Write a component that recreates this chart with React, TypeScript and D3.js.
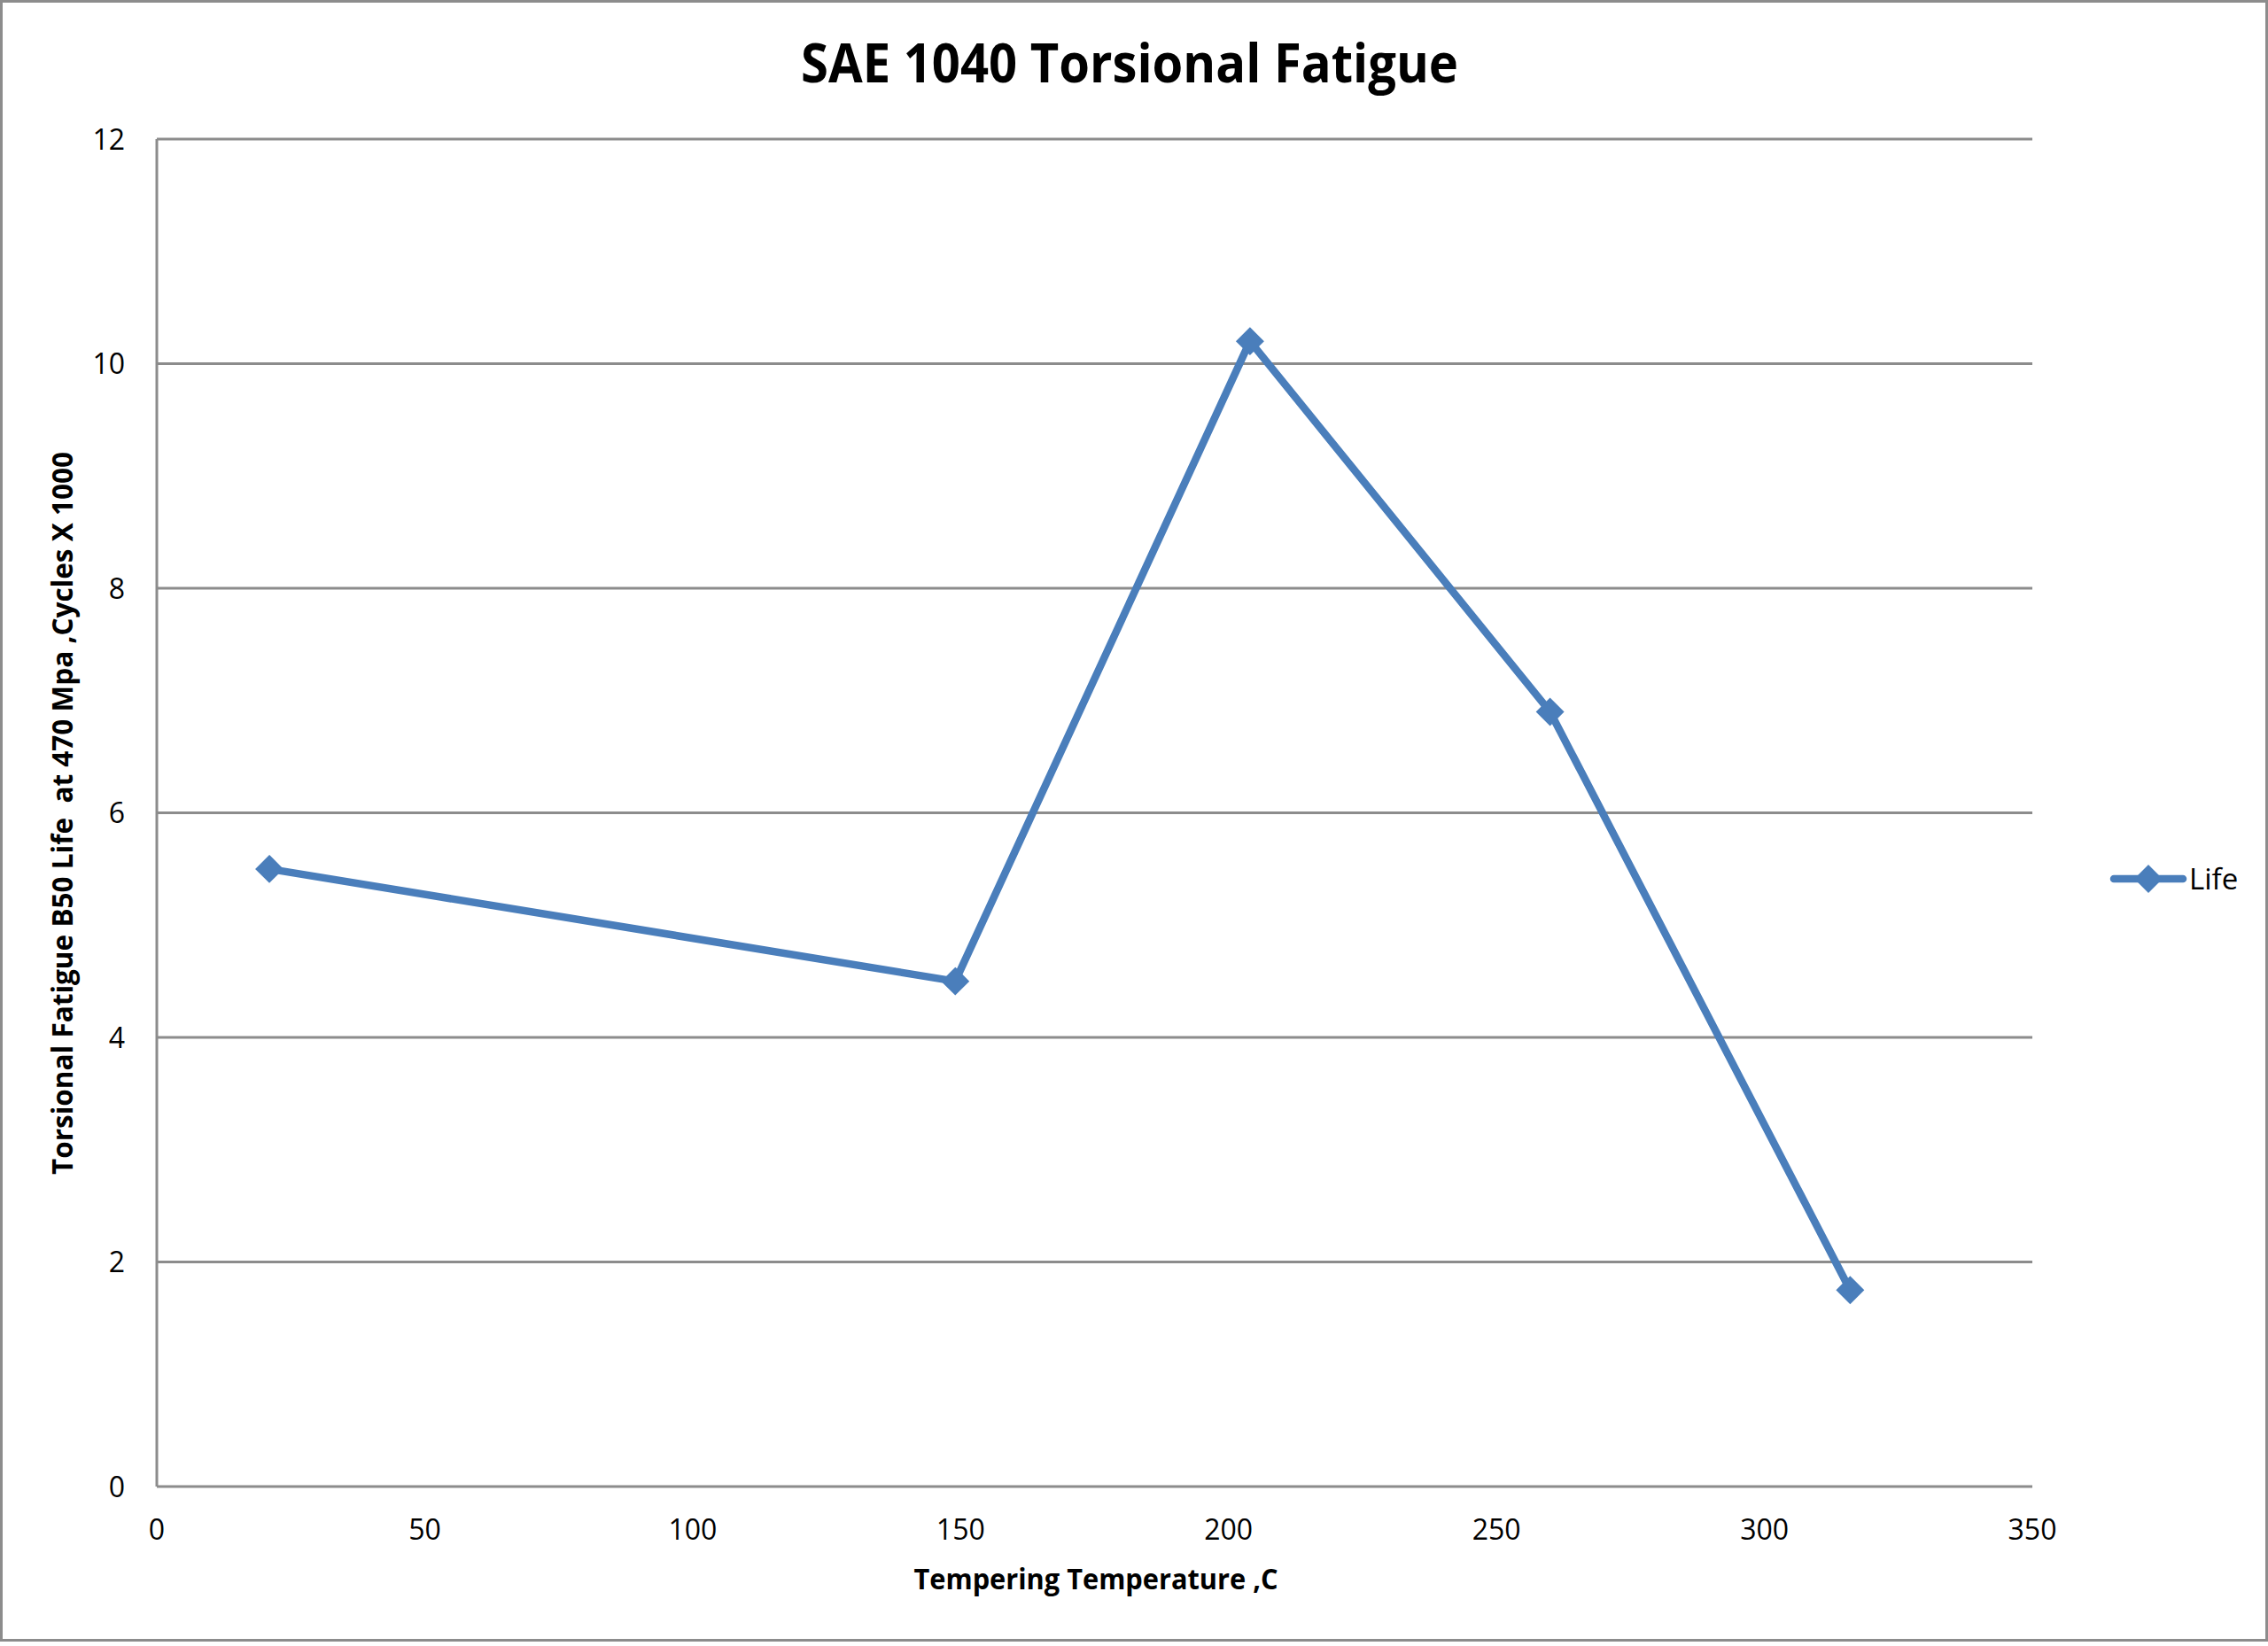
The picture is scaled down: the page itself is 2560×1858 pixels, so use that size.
import React, { useEffect, useRef } from "react";
import * as d3 from "d3";

const temperatures = [21, 149, 204, 260, 316];
const lifeValues = [5.5, 4.5, 10.2, 6.9, 1.75];
const xTicks = [0, 50, 100, 150, 200, 250, 300, 350];
const yTicks = [0, 2, 4, 6, 8, 10, 12];

const width = 2560;
const height = 1858;
const margin = { top: 157, right: 266, bottom: 180, left: 177 };
const lineColor = "#4A7EBB";
const gridColor = "#8C8C8C";
const font = "'Open Sans', 'DejaVu Sans', sans-serif";

const Chart = () => {
  const ref = useRef(null);

  useEffect(() => {
    const svg = d3.select(ref.current);
    svg.selectAll("*").remove();

    const xScale = d3
      .scaleLinear()
      .domain([0, 350])
      .range([margin.left, width - margin.right]);
    const yScale = d3
      .scaleLinear()
      .domain([0, 12])
      .range([height - margin.bottom, margin.top]);

    // outer frame
    svg
      .append("rect")
      .attr("x", 1.5)
      .attr("y", 1.5)
      .attr("width", width - 3)
      .attr("height", height - 8)
      .attr("fill", "white")
      .attr("stroke", gridColor)
      .attr("stroke-width", 3);

    // gridlines
    svg
      .append("g")
      .selectAll("line")
      .data(yTicks.filter((d) => d > 0))
      .join("line")
      .attr("x1", xScale(0))
      .attr("x2", xScale(350))
      .attr("y1", (d) => yScale(d))
      .attr("y2", (d) => yScale(d))
      .attr("stroke", gridColor)
      .attr("stroke-width", 3);

    // axis lines
    svg
      .append("line")
      .attr("x1", xScale(0))
      .attr("x2", xScale(0))
      .attr("y1", yScale(0))
      .attr("y2", yScale(12))
      .attr("stroke", gridColor)
      .attr("stroke-width", 3);
    svg
      .append("line")
      .attr("x1", xScale(0))
      .attr("x2", xScale(350))
      .attr("y1", yScale(0))
      .attr("y2", yScale(0))
      .attr("stroke", gridColor)
      .attr("stroke-width", 3);

    // tick labels
    svg
      .append("g")
      .selectAll("text")
      .data(yTicks)
      .join("text")
      .attr("x", xScale(0) - 36)
      .attr("y", (d) => yScale(d))
      .attr("dy", "0.36em")
      .attr("text-anchor", "end")
      .attr("font-family", font)
      .attr("font-size", 32)
      .attr("fill", "black")
      .text((d) => d);

    svg
      .append("g")
      .selectAll("text")
      .data(xTicks)
      .join("text")
      .attr("x", (d) => xScale(d))
      .attr("y", yScale(0) + 60)
      .attr("text-anchor", "middle")
      .attr("font-family", font)
      .attr("font-size", 32)
      .attr("fill", "black")
      .text((d) => d);

    // titles
    svg
      .append("text")
      .attr("x", 1275)
      .attr("y", 93)
      .attr("text-anchor", "middle")
      .attr("font-family", font)
      .attr("font-weight", "bold")
      .attr("font-size", 60)
      .attr("textLength", 742)
      .attr("lengthAdjust", "spacingAndGlyphs")
      .text("SAE 1040 Torsional Fatigue");

    svg
      .append("text")
      .attr("x", 1237)
      .attr("y", 1794)
      .attr("text-anchor", "middle")
      .attr("font-family", font)
      .attr("font-weight", "bold")
      .attr("font-size", 32)
      .attr("textLength", 411)
      .attr("lengthAdjust", "spacingAndGlyphs")
      .text("Tempering Temperature ,C");

    svg
      .append("text")
      .attr("transform", "translate(82, 918) rotate(-90)")
      .attr("text-anchor", "middle")
      .attr("font-family", font)
      .attr("font-weight", "bold")
      .attr("font-size", 32)
      .attr("textLength", 816)
      .attr("lengthAdjust", "spacingAndGlyphs")
      .style("white-space", "pre")
      .text("Torsional Fatigue B50 Life  at 470 Mpa ,Cycles X 1000");

    // series line
    const points = temperatures.map((t, i) => [t, lifeValues[i]] as [number, number]);
    const lineGenerator = d3
      .line<[number, number]>()
      .x((d) => xScale(d[0]))
      .y((d) => yScale(d[1]));

    svg
      .append("path")
      .datum(points)
      .attr("d", lineGenerator)
      .attr("fill", "none")
      .attr("stroke", lineColor)
      .attr("stroke-width", 8.5)
      .attr("stroke-linejoin", "round");

    const diamond = d3.symbol().type(d3.symbolDiamond2).size(540);
    svg
      .append("g")
      .selectAll("path")
      .data(points)
      .join("path")
      .attr("d", diamond)
      .attr("transform", (d) => `translate(${xScale(d[0])},${yScale(d[1])})`)
      .attr("fill", lineColor)
      .attr("stroke", lineColor)
      .attr("stroke-width", 2);

    // legend
    const legend = svg.append("g").attr("transform", "translate(2386, 992)");
    legend
      .append("line")
      .attr("x1", 0)
      .attr("x2", 78)
      .attr("stroke", lineColor)
      .attr("stroke-width", 8.5)
      .attr("stroke-linecap", "round");
    legend
      .append("path")
      .attr("d", diamond)
      .attr("transform", "translate(39,0)")
      .attr("fill", lineColor)
      .attr("stroke", lineColor)
      .attr("stroke-width", 2);
    legend
      .append("text")
      .attr("x", 85)
      .attr("y", 0)
      .attr("dy", "0.36em")
      .attr("font-family", font)
      .attr("font-size", 33)
      .text("Life");
  }, []);

  return (
    <svg
      ref={ref}
      width={width}
      height={height}
      style={{ position: "absolute", left: 0, top: 0 }}
    />
  );
};

export default function App() {
  return <Chart />;
}
